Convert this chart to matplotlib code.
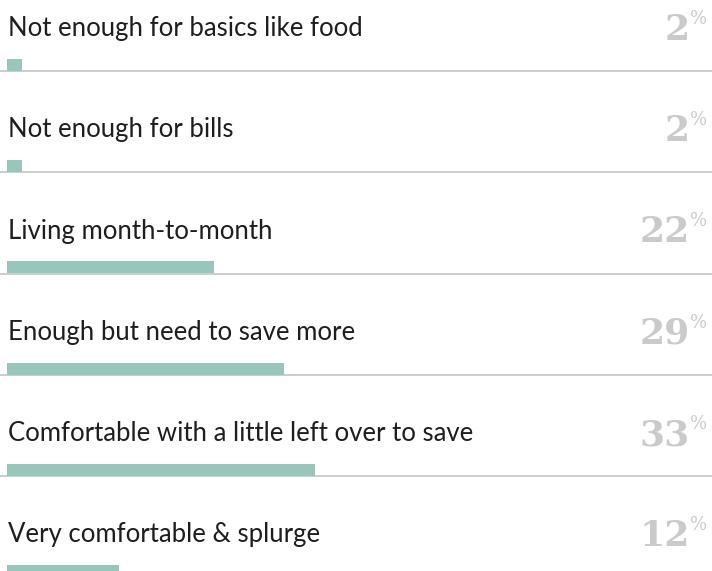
import matplotlib.pyplot as plt

labels = [
    "Not enough for basics like food",
    "Not enough for bills",
    "Living month-to-month",
    "Enough but need to save more",
    "Comfortable with a little left over to save",
    "Very comfortable & splurge",
]
pct_labels = [2, 2, 22, 29, 33, 12]
bar_values = [1.6, 1.6, 22, 29.5, 32.8, 11.9]

W, H = 712, 571
ROW = 101.25      # px per row
SEP0 = 71         # first separator, px from top
PX = 1.0 / ROW    # one pixel in y data units

fig = plt.figure(figsize=(W / 100, H / 100), dpi=100)
ax = fig.add_axes([0, 0, 1, 1])
ax.set_xlim(-0.75, 75.0)
ax.set_ylim(H / ROW, 0)
ax.axis('off')

bar_color = '#97c7bb'
for i, (lab, p, v) in enumerate(zip(labels, pct_labels, bar_values)):
    sep = (SEP0 + ROW * i) / ROW
    ax.barh(sep - 6 * PX, v, height=12 * PX, left=0,
            color=bar_color, edgecolor='none', zorder=2)
    ax.axhline(sep, color='#c4c4c4', linewidth=1.2, zorder=1)
    ax.text(0.1, sep - 35 * PX, lab, fontsize=18.5, family='Lato',
            color='#1e1e1e', va='baseline', ha='left')
    ax.text(72.6, sep - 31 * PX, str(p), fontsize=26, family='DejaVu Serif',
            fontweight='bold', color='#cacaca', va='baseline', ha='right')
    ax.text(72.7, sep - 47 * PX, '%', fontsize=13, family='DejaVu Serif',
            color='#cacaca', va='baseline', ha='left')

fig.savefig('out.png', dpi=100)
